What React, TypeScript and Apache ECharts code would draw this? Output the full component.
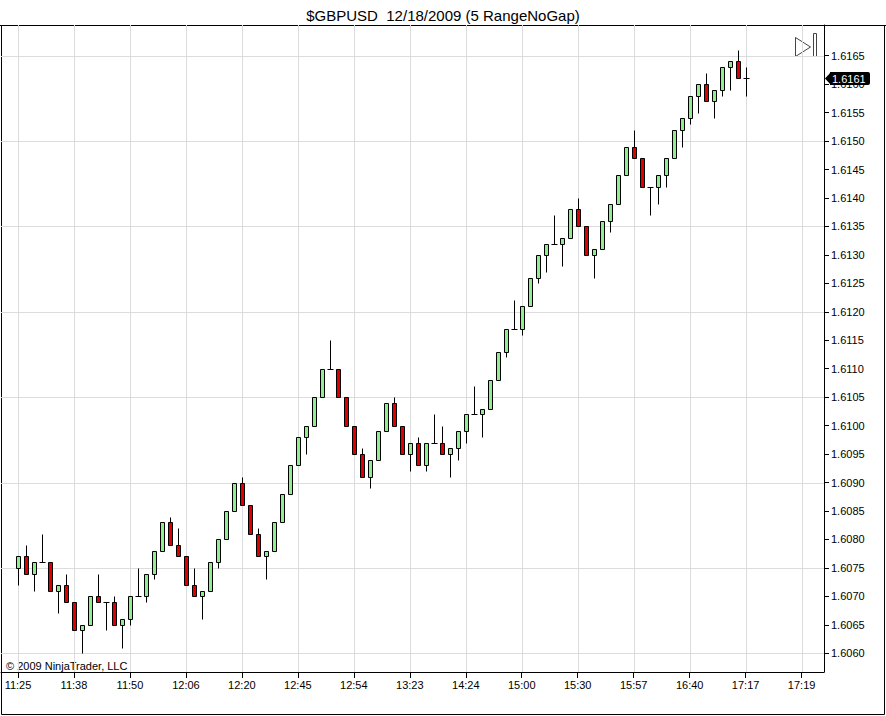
import React, { useEffect, useRef } from "react";
import * as echarts from "echarts";

const chartTitle = "$GBPUSD  12/18/2009 (5 RangeNoGap)";
const copyright = "© 2009 NinjaTrader, LLC";

const timeLabels = [
  "11:25", "11:38", "11:50", "12:06", "12:20", "12:45", "12:54", "13:23",
  "14:24", "15:00", "15:30", "15:57", "16:40", "17:17", "17:19",
];

const opens = [
  1.6075, 1.6077, 1.6074, 1.6076, 1.6076, 1.6071, 1.6072, 1.6069, 1.6064, 1.6065,
  1.6070, 1.6069, 1.6069, 1.6065, 1.6066, 1.6070, 1.6070, 1.6074, 1.6078, 1.6083,
  1.6079, 1.6077, 1.6072, 1.6070, 1.6071, 1.6076, 1.6080, 1.6085, 1.6090, 1.6086,
  1.6081, 1.6077, 1.6078, 1.6083, 1.6088, 1.6093, 1.6098, 1.6100, 1.6105, 1.6110,
  1.6110, 1.6105, 1.6100, 1.6095, 1.6091, 1.6094, 1.6099, 1.6104, 1.6100, 1.6095,
  1.6097, 1.6093, 1.6097, 1.6097, 1.6095, 1.6096, 1.6099, 1.6102, 1.6102, 1.6103,
  1.6108, 1.6113, 1.6117, 1.6117, 1.6121, 1.6126, 1.6130, 1.6132, 1.6132, 1.6133,
  1.6138, 1.6135, 1.6130, 1.6131, 1.6136, 1.6139, 1.6144, 1.6149, 1.6147, 1.6142,
  1.6142, 1.6144, 1.6147, 1.6152, 1.6154, 1.6158, 1.6160, 1.6157, 1.6159, 1.6163,
  1.6164, 1.6161,
];

const closes = [
  1.6077, 1.6074, 1.6076, 1.6076, 1.6071, 1.6072, 1.6069, 1.6064, 1.6065, 1.6070,
  1.6069, 1.6069, 1.6065, 1.6066, 1.6070, 1.6070, 1.6074, 1.6078, 1.6083, 1.6079,
  1.6077, 1.6072, 1.6070, 1.6071, 1.6076, 1.6080, 1.6085, 1.6090, 1.6086, 1.6081,
  1.6077, 1.6078, 1.6083, 1.6088, 1.6093, 1.6098, 1.6100, 1.6105, 1.6110, 1.6110,
  1.6105, 1.6100, 1.6095, 1.6091, 1.6094, 1.6099, 1.6104, 1.6100, 1.6095, 1.6097,
  1.6093, 1.6097, 1.6097, 1.6095, 1.6096, 1.6099, 1.6102, 1.6102, 1.6103, 1.6108,
  1.6113, 1.6117, 1.6117, 1.6121, 1.6126, 1.6130, 1.6132, 1.6132, 1.6133, 1.6138,
  1.6135, 1.6130, 1.6131, 1.6136, 1.6139, 1.6144, 1.6149, 1.6147, 1.6142, 1.6142,
  1.6144, 1.6147, 1.6152, 1.6154, 1.6158, 1.6160, 1.6157, 1.6159, 1.6163, 1.6164,
  1.6161, 1.6161,
];

const highs = [
  1.6077, 1.6079, 1.6076, 1.6081, 1.6076, 1.6072, 1.6074, 1.6069, 1.6065, 1.6070,
  1.6074, 1.6069, 1.6070, 1.6066, 1.6070, 1.6075, 1.6074, 1.6078, 1.6083, 1.6084,
  1.6082, 1.6077, 1.6075, 1.6071, 1.6076, 1.6080, 1.6085, 1.6090, 1.6091, 1.6086,
  1.6082, 1.6078, 1.6083, 1.6088, 1.6093, 1.6098, 1.6100, 1.6105, 1.6110, 1.6115,
  1.6110, 1.6105, 1.6100, 1.6096, 1.6094, 1.6099, 1.6104, 1.6105, 1.6100, 1.6097,
  1.6098, 1.6097, 1.6102, 1.6100, 1.6096, 1.6099, 1.6102, 1.6107, 1.6103, 1.6108,
  1.6113, 1.6117, 1.6122, 1.6121, 1.6126, 1.6130, 1.6132, 1.6137, 1.6133, 1.6138,
  1.6140, 1.6135, 1.6131, 1.6136, 1.6139, 1.6144, 1.6149, 1.6152, 1.6147, 1.6142,
  1.6144, 1.6147, 1.6152, 1.6154, 1.6158, 1.6160, 1.6162, 1.6159, 1.6163, 1.6164,
  1.6166, 1.6163,
];

const lows = [
  1.6072, 1.6074, 1.6071, 1.6076, 1.6071, 1.6067, 1.6069, 1.6064, 1.6060, 1.6065,
  1.6069, 1.6064, 1.6065, 1.6061, 1.6065, 1.6070, 1.6069, 1.6073, 1.6078, 1.6079,
  1.6077, 1.6072, 1.6070, 1.6066, 1.6071, 1.6075, 1.6080, 1.6085, 1.6086, 1.6081,
  1.6077, 1.6073, 1.6078, 1.6083, 1.6088, 1.6093, 1.6095, 1.6100, 1.6105, 1.6110,
  1.6105, 1.6100, 1.6095, 1.6091, 1.6089, 1.6094, 1.6099, 1.6100, 1.6095, 1.6092,
  1.6093, 1.6092, 1.6097, 1.6095, 1.6091, 1.6094, 1.6097, 1.6102, 1.6098, 1.6103,
  1.6108, 1.6112, 1.6117, 1.6116, 1.6121, 1.6125, 1.6127, 1.6132, 1.6128, 1.6133,
  1.6135, 1.6130, 1.6126, 1.6131, 1.6134, 1.6139, 1.6144, 1.6147, 1.6142, 1.6137,
  1.6139, 1.6142, 1.6147, 1.6149, 1.6153, 1.6155, 1.6157, 1.6154, 1.6158, 1.6159,
  1.6161, 1.6158,
];

const priceTicks = [
  1.606, 1.6065, 1.607, 1.6075, 1.608, 1.6085, 1.609, 1.6095, 1.61, 1.6105, 1.611,
  1.6115, 1.612, 1.6125, 1.613, 1.6135, 1.614, 1.6145, 1.615, 1.6155, 1.616, 1.6165,
];
const priceGridLines = [1.606, 1.6075, 1.609, 1.6105, 1.612, 1.6135, 1.615, 1.6165];
const lastPrice = 1.6161;

const BARS_PER_LABEL = 7;
const X_MIN = -2.125;
const X_MAX = 100.8;
const Y_MIN = 1.60567;
const Y_MAX = 1.61704;

const FONT = "'Liberation Sans', Arial, sans-serif";
const UP_COLOR = "#90ee90";
const DOWN_COLOR = "#dc0000";
const GRID_COLOR = "#dcdcdc";

export default function App() {
  const ref = useRef<HTMLDivElement>(null);

  useEffect(() => {
    document.body.style.margin = "0";
    if (!ref.current) return;
    const chart = echarts.init(ref.current, null, { renderer: "svg" });

    const xTickValues = timeLabels.map((_, k) => k * BARS_PER_LABEL);
    const candleData = opens.map((o, i) => [i, o, closes[i], lows[i], highs[i]]);
    const gridData = [
      ...xTickValues.map((v) => [v, priceGridLines[0], 0]),
      ...priceGridLines.map((v) => [0, v, 1]),
    ];

    const renderGrid = (params: any, api: any) => {
      const cs = params.coordSys;
      const kind = api.value(2);
      const p = api.coord([api.value(0), api.value(1)]);
      if (kind === 0) {
        const x = Math.round(p[0]) + 0.5;
        return {
          type: "line",
          shape: { x1: x, y1: cs.y, x2: x, y2: cs.y + cs.height },
          style: { stroke: GRID_COLOR, lineWidth: 1 },
        };
      }
      const y = Math.round(p[1]) + 0.5;
      return {
        type: "line",
        shape: { x1: cs.x, y1: y, x2: cs.x + cs.width, y2: y },
        style: { stroke: GRID_COLOR, lineWidth: 1 },
      };
    };

    const renderCandle = (params: any, api: any) => {
      const x = api.value(0);
      const o = api.value(1);
      const c = api.value(2);
      const l = api.value(3);
      const h = api.value(4);
      const pO = api.coord([x, o]);
      const pC = api.coord([x, c]);
      const pL = api.coord([x, l]);
      const pH = api.coord([x, h]);
      const cx = Math.round(pO[0]) + 0.5;
      const yH = Math.round(pH[1]) + 0.5;
      const yL = Math.round(pL[1]) + 0.5;
      const yTop = Math.round(Math.min(pO[1], pC[1])) + 0.5;
      const yBot = Math.round(Math.max(pO[1], pC[1])) + 0.5;
      const children: any[] = [];
      if (yH < yTop) {
        children.push({
          type: "line",
          shape: { x1: cx, y1: yH, x2: cx, y2: yTop },
          style: { stroke: "#000", lineWidth: 1 },
        });
      }
      if (yL > yBot) {
        children.push({
          type: "line",
          shape: { x1: cx, y1: yBot, x2: cx, y2: yL },
          style: { stroke: "#000", lineWidth: 1 },
        });
      }
      if (o === c) {
        children.push({
          type: "line",
          shape: { x1: cx - 3, y1: yTop, x2: cx + 3, y2: yTop },
          style: { stroke: "#000", lineWidth: 1 },
        });
      } else {
        children.push({
          type: "rect",
          shape: { x: cx - 2, y: yTop, width: 4, height: yBot - yTop },
          style: { fill: c > o ? UP_COLOR : DOWN_COLOR, stroke: "#000", lineWidth: 1 },
        });
      }
      return { type: "group", children };
    };

    chart.setOption({
      animation: false,
      backgroundColor: "#fff",
      textStyle: { fontFamily: FONT },
      title: {
        text: chartTitle,
        left: "center",
        top: 3,
        textStyle: { fontSize: 15, fontWeight: "normal", color: "#000", fontFamily: FONT },
      },
      grid: { left: 1, right: 62, top: 25, bottom: 44, containLabel: false },
      xAxis: {
        type: "value",
        min: X_MIN,
        max: X_MAX,
        axisLine: { show: true, onZero: false, lineStyle: { color: "#000", width: 1 } },
        axisTick: {
          show: true,
          customValues: xTickValues,
          length: 6,
          lineStyle: { color: "#000" },
        },
        axisLabel: {
          show: true,
          customValues: xTickValues,
          formatter: (v: number) => timeLabels[Math.round(v / BARS_PER_LABEL)] ?? "",
          color: "#000",
          fontSize: 11,
          fontFamily: FONT,
          margin: 7,
        },
        splitLine: { show: false },
      },
      yAxis: {
        type: "value",
        position: "right",
        min: Y_MIN,
        max: Y_MAX,
        scale: true,
        axisLine: { show: true, onZero: false, lineStyle: { color: "#000", width: 1 } },
        axisTick: {
          show: true,
          customValues: priceTicks,
          length: 5,
          lineStyle: { color: "#000" },
        },
        axisLabel: {
          show: true,
          customValues: priceTicks,
          formatter: (v: number) => v.toFixed(4),
          color: "#000",
          fontSize: 11,
          fontFamily: FONT,
          margin: 7,
        },
        splitLine: { show: false },
      },
      series: [
        {
          type: "custom",
          z: 1,
          silent: true,
          renderItem: renderGrid,
          data: gridData,
          encode: { x: 0, y: 1 },
        },
        {
          type: "custom",
          z: 3,
          silent: true,
          renderItem: renderCandle,
          data: candleData,
          encode: { x: 0, y: [1, 2, 3, 4] },
        },
      ],
    });

    const p = chart.convertToPixel({ gridIndex: 0 }, [X_MAX, lastPrice]) as number[];
    const ax = Math.round(p[0]) + 1;
    const ay = Math.round(p[1]) + 0.5;

    chart.setOption({
      graphic: [
        {
          type: "rect",
          silent: true,
          z: 0,
          shape: { x: 1.5, y: 25.5, width: 883, height: 689 },
          style: { fill: "none", stroke: "#000", lineWidth: 1 },
        },
        {
          type: "line",
          silent: true,
          shape: { x1: 0, y1: 25.5, x2: 886, y2: 25.5 },
          style: { stroke: "#000", lineWidth: 1 },
        },
        {
          type: "text",
          silent: true,
          x: 6,
          y: 666,
          style: {
            text: copyright,
            fill: "#000",
            font: `11px ${FONT}`,
            verticalAlign: "middle",
          },
        },
        {
          type: "polygon",
          silent: true,
          shape: { points: [[795.5, 37.5], [810.5, 47], [795.5, 56.5]] },
          style: { fill: "#fff", stroke: "#444", lineWidth: 1 },
        },
        {
          type: "rect",
          silent: true,
          shape: { x: 813.5, y: 33.5, width: 3, height: 23 },
          style: { fill: "#fff", stroke: "#444", lineWidth: 1 },
        },
        {
          type: "polygon",
          silent: true,
          z: 50,
          shape: { points: [[ax, ay], [ax + 6, ay - 6.5], [ax + 6, ay + 6.5]] },
          style: { fill: "#000" },
        },
        {
          type: "rect",
          silent: true,
          z: 50,
          shape: { x: ax + 5, y: ay - 6.5, width: 40, height: 13, r: [0, 2, 2, 0] },
          style: { fill: "#000" },
        },
        {
          type: "text",
          silent: true,
          z: 51,
          x: ax + 7,
          y: ay,
          style: {
            text: lastPrice.toFixed(4),
            fill: "#fff",
            font: `11px ${FONT}`,
            verticalAlign: "middle",
          },
        },
      ],
    });

    return () => {
      chart.dispose();
    };
  }, []);

  return <div ref={ref} style={{ width: 886, height: 716 }} />;
}
